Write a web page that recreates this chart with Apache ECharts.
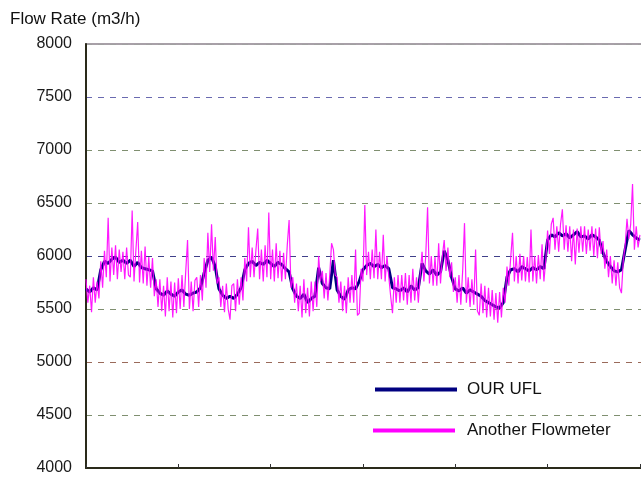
<!DOCTYPE html>
<html>
<head>
<meta charset="utf-8">
<script src="https://cdn.jsdelivr.net/npm/echarts@6/dist/echarts.min.js"></script>
<style>
html,body{margin:0;padding:0;background:#fff;}
#c{width:641px;height:477px;}
</style>
</head>
<body>
<div id="c"></div>
<script>
// Y-axis ticks
var yTicks = [4000, 4500, 5000, 5500, 6000, 6500, 7000, 7500, 8000];
var seriesNames = ['OUR UFL', 'Another Flowmeter'];
// OUR UFL, one sample every 4 time units (0..600)
var oursStep = 4;
var ours = [
5690,5660,5700,5680,5870,5950,5930,5970,5990,5940,
5960,5930,5960,5900,5940,5890,5880,5870,5860,5690,
5650,5630,5670,5640,5620,5660,5680,5640,5630,5650,
5660,5700,5840,5960,5990,5900,5690,5630,5600,5620,
5600,5640,5700,5870,5930,5950,5910,5940,5920,5960,
5930,5900,5940,5920,5880,5850,5690,5620,5600,5640,
5560,5600,5620,5890,5740,5700,5690,5960,5680,5620,
5590,5680,5700,5690,5760,5870,5910,5930,5900,5920,
5890,5910,5880,5700,5690,5670,5700,5660,5720,5680,
5700,5930,5860,5830,5870,5820,5850,6050,5960,5800,
5690,5670,5700,5650,5680,5660,5640,5620,5580,5560,
5540,5520,5510,5560,5800,5870,5880,5850,5900,5880,
5860,5890,5870,5900,5880,6150,6200,6180,6220,6190,
6210,6170,6200,6230,6180,6190,6160,6200,6180,6150,
6030,5950,5900,5860,5850,5870,6060,6240,6200,6170,
6150
];
// Another Flowmeter, one sample every 2 time units (0..600)
var otherStep = 2;
var other = [
5780,5560,5720,5470,5800,5560,5760,5600,5950,5700,
6050,5800,6360,5760,6080,5820,6100,5780,6060,5850,
6040,5780,6080,5820,5800,6430,5760,6050,6320,5750,
6050,5740,6090,5720,5990,5700,5980,5620,5780,5520,
5780,5480,5720,5430,5800,5480,5760,5420,5750,5460,
5790,5500,5820,5520,5850,6150,5500,5760,5480,5770,
5800,5520,5820,5580,5980,5700,6220,5850,6300,5860,
6180,5740,5800,5520,5720,5470,5740,5500,5400,5720,
5740,5480,5780,5540,5800,5580,5980,5760,6270,5800,
6080,5800,6050,6260,5780,6060,5760,6100,5800,6410,
5780,6060,5760,6120,5790,6050,5760,6030,5780,6100,
6340,5700,5800,5560,5740,5480,5720,5420,5780,5460,
5700,5430,5760,5480,5760,5520,6000,5760,5860,5600,
5840,5580,5820,6120,6060,5820,5800,5560,5760,5480,
5720,5460,5800,5560,5820,5560,6060,5440,5460,5880,
5760,6480,5820,6040,5780,6060,5790,6250,5780,6040,
5780,6200,5760,6000,5800,5620,5460,5800,5560,5820,
5560,5820,5580,5840,5540,5820,5560,5880,5580,5800,
5560,5820,6040,5760,6000,6460,5740,6000,5720,5990,
5720,6120,5740,6000,6150,5860,6080,5800,5940,5660,
5800,5560,5820,5540,5860,6310,5560,5800,5520,5780,
5540,6060,5480,5440,5740,5460,5720,5420,5700,5430,
5680,5400,5650,5370,5660,5420,5700,5560,5900,5720,
5980,6220,5760,6000,5740,6020,5770,6000,5760,5990,
5750,6250,5760,6000,5740,6010,5780,6110,5760,5960,
6240,6020,6300,6360,6060,6280,6040,6300,6440,6060,
6290,6040,6280,5950,6250,5920,6260,6030,6280,6040,
6280,6020,6250,6050,6280,6000,6260,5980,6270,6020,
6140,5880,6060,5800,6000,5740,5960,5720,5940,5700,
5650,5960,6100,6350,6160,6300,6680,6060,6280,6080,
6200
];

function pairs(arr, step){ return arr.map(function(v,i){ return [i*step, v]; }); }

var font = "'Liberation Sans', Arial, sans-serif";
var gridColors = ['#7f8f70','#7f8f70','#9a6a5a','#7f8f70','#40408a','#7f8f70','#7f8f70','#6a6ab0','#a0a0a0'];

var chart = echarts.init(document.getElementById('c'), null, {renderer:'canvas'});
chart.setOption({
  animation:false,
  backgroundColor:'#ffffff',
  title:{text:'Flow Rate (m3/h)', left:10, top:11, padding:0, textStyle:{fontFamily:font, fontSize:17, fontWeight:'normal', color:'#111'}},
  grid:{left:86, top:44, width:565, bottom:9, outerBoundsMode:'none', containLabel:false, show:true, borderColor:'#a8a0a8', borderWidth:2, backgroundColor:'transparent'},
  legend:[
    {data:[seriesNames[0]], left:375, top:381, padding:0, orient:'vertical', icon:'rect', itemWidth:82, itemHeight:4, itemGap:10,
     textStyle:{fontFamily:font, fontSize:17, color:'#111', padding:[0,0,0,5]}},
    {data:[seriesNames[1]], left:373, top:422, padding:0, orient:'vertical', icon:'rect', itemWidth:82, itemHeight:4, itemGap:10,
     textStyle:{fontFamily:font, fontSize:17, color:'#111', padding:[0,0,0,7]}}
  ],
  xAxis:{type:'value', min:0, max:612, interval:100,
    axisLine:{show:true, lineStyle:{color:'#2a2a1a', width:2}},
    axisTick:{show:true, inside:true, length:4, lineStyle:{color:'#333', width:1}},
    axisLabel:{show:false}, splitLine:{show:false}},
  yAxis:{type:'value', min:yTicks[0], max:yTicks[yTicks.length-1], interval:500,
    axisLine:{show:true, lineStyle:{color:'#2a2a1a', width:2}},
    axisTick:{show:false},
    axisLabel:{fontFamily:font, fontSize:16, color:'#1a1a1a', margin:14, formatter:function(v){return String(v);}},
    splitLine:{show:true, lineStyle:{color:gridColors, type:[6,6], width:1}}},
  series:[
    {name:seriesNames[0], type:'line', data:pairs(ours, oursStep), showSymbol:false, symbol:'none',
     lineStyle:{color:'#000080', width:3}, itemStyle:{color:'#000080'}, z:2},
    {name:seriesNames[1], type:'line', data:pairs(other, otherStep), showSymbol:false, symbol:'none',
     lineStyle:{color:'#ff00ff', width:1.2, opacity:0.9}, itemStyle:{color:'#ff00ff'}, z:3}
  ]
});
</script>
</body>
</html>
